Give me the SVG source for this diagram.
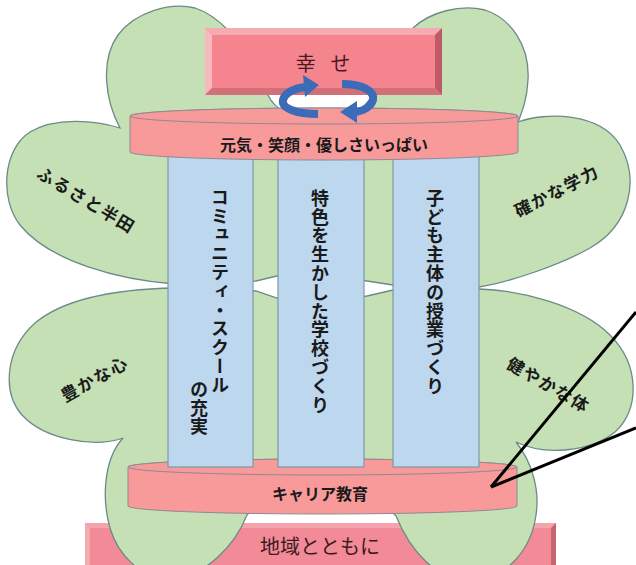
<svg xmlns="http://www.w3.org/2000/svg" width="636" height="565" viewBox="0 0 636 565">
<defs>
<style>
.leaf{fill:#c5e0b4;stroke:#6b8b87;stroke-width:1.3}
.ring{fill:#f89a9a;stroke:#8e8a96;stroke-width:1}
.col{fill:#bdd7ee;stroke:#7c98a8;stroke-width:1.2}
.jp{font-family:"Noto Sans CJK JP","Noto Sans CJK SC",sans-serif}
.vt{writing-mode:vertical-rl;font-size:18px;font-weight:700;fill:#1a1a1a;letter-spacing:0.8px}
.lbl{font-size:17px;font-weight:700;fill:#1a1a1a;letter-spacing:1.5px}
.arr{fill:none;stroke:#3c6cb8;stroke-width:8}
.head{fill:#3c6cb8}
.ptr{stroke:#000;stroke-width:3;fill:none}
</style>
</defs>
<rect width="636" height="565" fill="#fff"/>

<g id="chiiki">
<rect x="85" y="523" width="471" height="45" fill="#f28b97"/>
<polygon points="85,523 556,523 551,528 90,528" fill="#f5a3ac"/>
<polygon points="85,523 90,528 90,565 85,565" fill="#f6aab2"/>
<polygon points="556,523 556,565 551,565 551,528" fill="#c9646f"/>
<text class="jp" x="320" y="545" text-anchor="middle" dominant-baseline="central" font-size="20" fill="#3c1a1f">地域とともに</text>
</g>

<g id="clover">
<path class="leaf" d="M175,284 C120,280 50,262 20,225 C0,200 2,150 30,132 C55,117 95,120 120,128 C105,100 100,60 118,35 C135,12 170,2 195,8 C208,12 218,20 228,30 L240,60 L268,95 C275,110 290,118 320,120 C350,118 365,110 372,95 L400,60 L413,28 C430,12 460,4 485,10 C510,18 530,45 528,80 C527,100 522,112 518,122 C545,112 600,112 620,145 C640,180 630,225 590,248 C560,265 510,282 479,287 L393,285 L367,281 L322,272 L277,276 L256,281 Z"/>
<path class="leaf" d="M175,288 L256,291 L277,298 L322,302 L367,296 L393,290 L479,289 C520,290 580,305 610,335 C640,365 640,410 615,432 C590,452 545,456 516,442 C532,462 540,490 536,515 C532,545 510,580 470,580 C435,580 410,550 396,516 L380,500 L320,490 L262,500 L247,515 C235,545 205,578 170,578 C140,578 118,555 110,528 C102,500 103,460 123,438 C95,448 45,440 22,415 C2,392 5,350 35,323 C65,298 120,289 175,288 Z"/>
</g>

<g id="shiawase">
<rect x="205" y="28" width="237" height="67" fill="#f4858f"/>
<polygon points="205,28 442,28 435,35 212,35" fill="#f7aab1"/>
<polygon points="205,28 212,35 212,88 205,95" fill="#f9b8be"/>
<polygon points="205,95 212,88 435,88 442,95" fill="#d2707a"/>
<polygon points="442,28 442,95 435,88 435,35" fill="#bf5a66"/>
<text class="jp" x="323" y="62" text-anchor="middle" dominant-baseline="central" font-size="20" fill="#4a1a22" word-spacing="10">幸 せ</text>
</g>

<g id="career">
<path class="ring" d="M128,467 L128,506 A194.5,8 0 0 0 517,506 L517,467 A194.5,8 0 0 0 128,467 Z"/>
<ellipse class="ring" cx="322.5" cy="467" rx="194.5" ry="8"/>
<text class="jp" x="320" y="493" text-anchor="middle" dominant-baseline="central" font-size="16" font-weight="700" fill="#1a1a1a">キャリア教育</text>
</g>

<g id="col-community">
<rect class="col" x="168" y="150" width="85" height="317"/>
<text class="jp vt" x="220" y="188">コミュニティ・スクール</text>
<text class="jp vt" x="199" y="380">の充実</text>
</g>
<g id="col-tokushoku">
<rect class="col" x="278" y="150" width="86" height="317"/>
<text class="jp vt" x="320" y="189">特色を生かした学校づくり</text>
</g>
<g id="col-kodomo">
<rect class="col" x="393" y="150" width="86" height="317"/>
<text class="jp vt" x="435" y="189">子ども主体の授業づくり</text>
</g>

<g id="genki">
<path class="ring" d="M130,116 L130,152 A194,8 0 0 0 518,152 L518,116 A194,8 0 0 0 130,116 Z"/>
<ellipse class="ring" cx="324" cy="116" rx="194" ry="8"/>
<text class="jp" x="324" y="144" text-anchor="middle" dominant-baseline="central" font-size="16" font-weight="700" fill="#1a1a1a">元気・笑顔・優しさいっぱい</text>
</g>

<g id="leaf-labels" class="jp lbl">
<text id="furusato" x="87" y="199" text-anchor="middle" dominant-baseline="central" transform="rotate(31 87 199)">ふるさと半田</text>
<text id="yutakana" x="94" y="378" text-anchor="middle" dominant-baseline="central" transform="rotate(-29 94 378)">豊かな心</text>
<text id="tashikana" x="556" y="190" text-anchor="middle" dominant-baseline="central" transform="rotate(-27 556 190)">確かな学力</text>
<text id="sukoyaka" x="549" y="384" text-anchor="middle" dominant-baseline="central" transform="rotate(30 549 384)">健やかな体</text>
</g>

<g id="connectors">
<path class="arr" d="M318,114 C296,114 281,108 283,100 C285,92 296,88 305,87"/>
<polygon class="head" points="303,75 319,85 305,97"/>
<path class="arr" d="M342,84 C362,84 375,91 373,100 C371,107 363,111 356,112"/>
<polygon class="head" points="357,101 340,112 357,123"/>
<line class="ptr" x1="636" y1="312" x2="491" y2="487"/>
<line class="ptr" x1="636" y1="428" x2="491" y2="487"/>
</g>
</svg>
